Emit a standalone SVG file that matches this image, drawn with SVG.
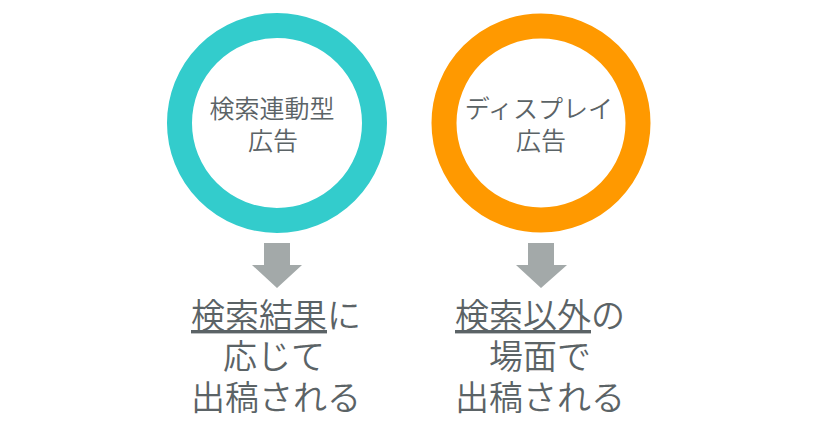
<svg xmlns="http://www.w3.org/2000/svg" width="820" height="426" viewBox="0 0 820 426">
<style>
.ring{fill:none;stroke-width:25}
.lbl{font-family:"Noto Sans CJK JP","Noto Sans",sans-serif;font-weight:350;fill:#5b6366;text-anchor:middle}
.in{font-size:25px}
.out{font-size:34px}
.arrow{fill:#a3a9a9}
.ul{text-decoration:underline}
</style>
<rect width="820" height="426" fill="#ffffff"/>
<g id="node-search">
<circle class="ring" cx="277" cy="123" r="97.5" stroke="#33cccc"/>
<text class="lbl in" x="272" y="118">検索連動型</text>
<text class="lbl in" x="273" y="150">広告</text>
</g>
<g id="node-display">
<circle class="ring" cx="541" cy="123" r="97" stroke="#ff9900"/>
<text class="lbl in" x="539" y="118">ディスプレイ</text>
<text class="lbl in" x="541" y="150">広告</text>
</g>
<g id="connectors">
<path class="arrow" d="M264 243 H290 V265 H302 L277 288 L252 265 H264 Z"/>
<path class="arrow" d="M528 243 H554 V265 H567 L541 288 L516 265 H528 Z"/>
</g>
<g id="result-search">
<text class="lbl out" x="276" y="328"><tspan class="ul">検索結果</tspan>に</text>
<text class="lbl out" x="274" y="369">応じて</text>
<text class="lbl out" x="276" y="410">出稿される</text>
</g>
<g id="result-display">
<text class="lbl out" x="540" y="328"><tspan class="ul">検索以外</tspan>の</text>
<text class="lbl out" x="540" y="369">場面で</text>
<text class="lbl out" x="540" y="410">出稿される</text>
</g>
</svg>
